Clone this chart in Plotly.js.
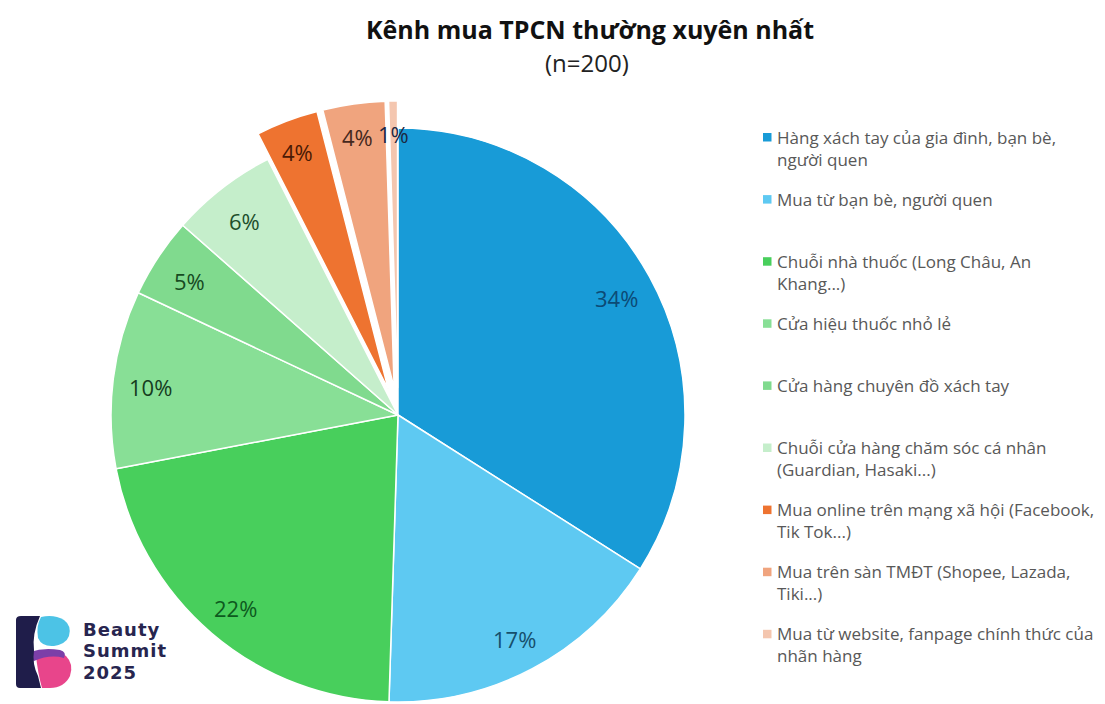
<!DOCTYPE html>
<html><head><meta charset="utf-8">
<script src="https://cdn.plot.ly/plotly-3.0.1.min.js"></script>
<style>html,body{margin:0;padding:0;overflow:hidden;background:#fff}#chart{width:1105px;height:740px}</style>
</head><body><div id="chart"></div>
<script>
// ---------------- DATA ----------------
const categories = [
  "Hàng xách tay của gia đình, bạn bè, người quen",
  "Mua từ bạn bè, người quen",
  "Chuỗi nhà thuốc (Long Châu, An Khang...)",
  "Cửa hiệu thuốc nhỏ lẻ",
  "Cửa hàng chuyên đồ xách tay",
  "Chuỗi cửa hàng chăm sóc cá nhân (Guardian, Hasaki...)",
  "Mua online trên mạng xã hội (Facebook, Tik Tok...)",
  "Mua trên sàn TMĐT (Shopee, Lazada, Tiki...)",
  "Mua từ website, fanpage chính thức của nhãn hàng"
];
const respondents = [68, 33, 43, 20, 9, 12, 7, 7, 1];   // out of n=200
const pulledOut = [false, false, false, false, false, false, true, true, true];
const titleText = "Kênh mua TPCN thường xuyên nhất";
const subtitleText = "(n=200)";
const brandLines = ["Beauty", "Summit", "2025"];

// ---------------- STYLE ----------------
const sliceColors = ["#189bd7", "#5ec9f2", "#48cf5c", "#88df96", "#80da8e", "#c5eecb", "#ee7330", "#f0a47e", "#f4c6af"];
const labelColors = ["#0c4a75", "#164f6c", "#0d5a1e", "#163c1e", "#164a22", "#1d4f2c", "#4a1a05", "#45281d", "#1c2842"];
const W = 1105, H = 740;
const CX = 398, CY = 415, R = 287, PULL = 0.095;
const FONT = "Open Sans, Liberation Sans, sans-serif";

function wrap(s, maxChars) {
  const words = s.split(" "); const lines = []; let cur = "";
  for (const w of words) {
    if (cur && (cur + " " + w).length > maxChars) { lines.push(cur); cur = w; }
    else cur = cur ? cur + " " + w : w;
  }
  if (cur) lines.push(cur);
  return lines.join("<br>");
}
const px = x => x / W;
const py = y => 1 - y / H;

const total = respondents.reduce((a, b) => a + b, 0);

const trace = {
  type: "pie",
  labels: categories,
  values: respondents,
  sort: false,
  direction: "clockwise",
  rotation: 0,
  pull: pulledOut.map(p => p ? PULL : 0),
  marker: { colors: sliceColors, line: { color: "#ffffff", width: 1.5 } },
  textinfo: "none",
  hoverinfo: "label+percent",
  showlegend: false,
  domain: {
    x: [px(CX - R * (1 + PULL)), px(CX + R * (1 + PULL))],
    y: [py(CY + R * (1 + PULL)), py(CY - R * (1 + PULL))]
  }
};

const annotations = [];
const shapes = [];

// percentage labels along each slice's mid angle
let cum = 0;
respondents.forEach((v, i) => {
  const mid = (cum + v / 2) / total * 2 * Math.PI;
  cum += v;
  const d = R * (pulledOut[i] ? 0.895 + PULL : 0.87);
  annotations.push({
    x: px(CX + d * Math.sin(mid)), y: py(CY - d * Math.cos(mid) + 3),
    xref: "paper", yref: "paper", xanchor: "center", yanchor: "middle",
    text: Math.round(v * 100 / total) + "%", showarrow: false,
    font: { family: FONT, size: 22, color: labelColors[i] }
  });
});

// legend (right side)
categories.forEach((c, i) => {
  const yc = 137 + 62.1 * i;
  shapes.push({
    type: "rect", xref: "paper", yref: "paper",
    x0: px(763), x1: px(771.5), y0: py(yc - 4), y1: py(yc + 4.5),
    fillcolor: sliceColors[i], line: { width: 0 }
  });
  annotations.push({
    x: px(775), y: py(yc - 13.5), xref: "paper", yref: "paper",
    xanchor: "left", yanchor: "top", align: "left", showarrow: false,
    text: wrap(c, 38),
    font: { family: FONT, size: 17, color: "#585858" }
  });
});

// subtitle
annotations.push({
  x: px(587), y: py(62), xref: "paper", yref: "paper", xanchor: "center", yanchor: "middle",
  text: subtitleText, showarrow: false, font: { family: FONT, size: 24, color: "#222222" }
});

// brand text
const brandY = [629, 650.5, 672];
brandLines.forEach((t, i) => annotations.push({
  x: px(81), y: py(brandY[i]), xref: "paper", yref: "paper", xanchor: "left", yanchor: "middle",
  text: '<span style="letter-spacing:1px">' + t + '</span>', showarrow: false,
  font: { family: "DejaVu Sans, sans-serif", size: 18, weight: 700, color: "#27254f" }
}));

const logoSvg = '<svg xmlns="http://www.w3.org/2000/svg" viewBox="0 0 60 76">' +
  '<path d="M27,3 Q40,0 50,6 Q58,12 55,22 Q52,30 40,32 Q28,33 24,24 Q22,12 27,3 Z" fill="#4cc3e6"/>' +
  '<path d="M22,42 Q40,34 52,42 Q60,50 56,62 Q50,74 36,74 L28,74 Q24,60 22,42 Z" fill="#e8458b"/>' +
  '<path d="M16,38 Q30,33 46,36 Q53,38 50,44 Q36,40 20,47 Q14,43 16,38 Z" fill="#7b3fa8"/>' +
  '<path d="M2,6 Q2,2 7,2 L26,2 Q18,20 20,36 Q18,50 24,62 L27,74 L6,74 Q2,74 2,70 Z" fill="#1f1d4a"/>' +
  '</svg>';

const layout = {
  width: W, height: H,
  margin: { l: 0, r: 0, t: 0, b: 0 },
  paper_bgcolor: "#ffffff",
  title: {
    text: titleText, xref: "container", yref: "container",
    x: px(590), xanchor: "center", y: py(30), yanchor: "middle",
    font: { family: FONT, size: 25, weight: 700, color: "#111111" }
  },
  annotations: annotations,
  shapes: shapes,
  images: [{
    source: "data:image/svg+xml;utf8," + encodeURIComponent(logoSvg),
    xref: "paper", yref: "paper", x: px(14), y: py(614), sizex: 60 / W, sizey: 76 / H,
    xanchor: "left", yanchor: "top", sizing: "stretch", layer: "above"
  }]
};

Plotly.newPlot("chart", [trace], layout, { displayModeBar: false, staticPlot: true });
</script>
</body></html>
